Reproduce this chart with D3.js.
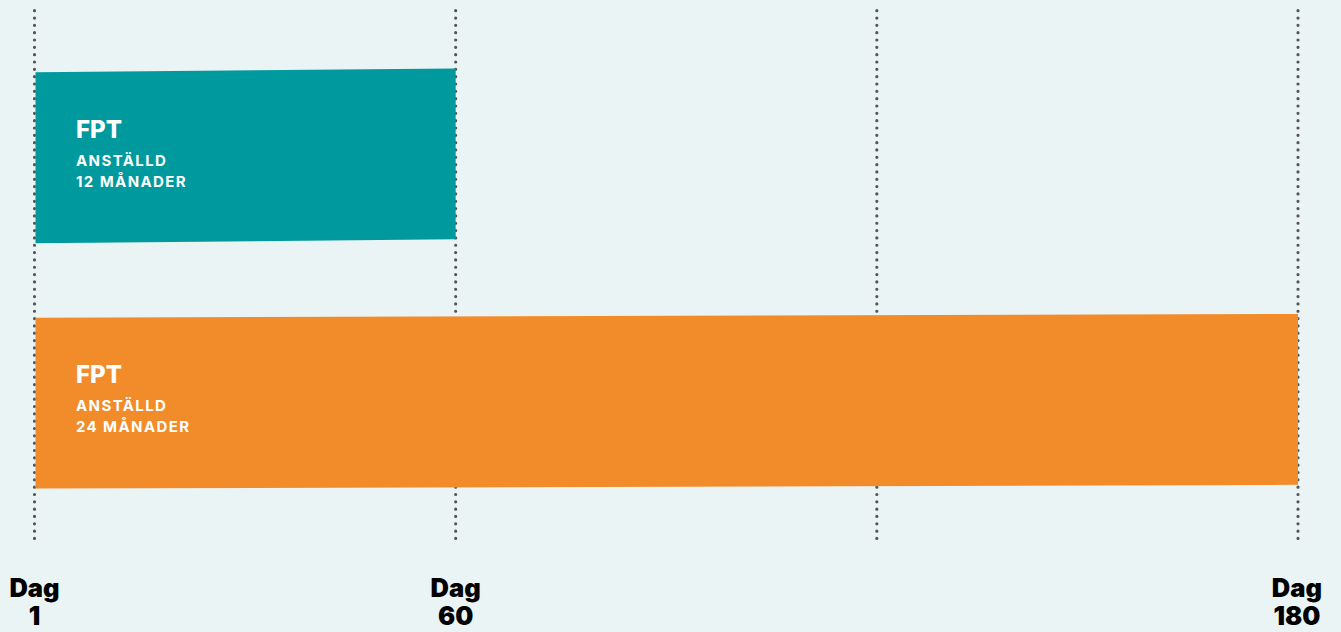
<!DOCTYPE html>
<html><head><meta charset="utf-8">
<script src="https://cdn.jsdelivr.net/npm/d3@7"></script>
<style>
html,body{margin:0;padding:0;background:#eaf4f5;}
svg{display:block;}
</style></head>
<body>
<svg id="chart" width="1341" height="632"></svg>
<script>
// Data
const tickValues = [0, 60, 120, 180];
const tickLabelTop = ["Dag", "Dag", "", "Dag"];
const tickLabelBottom = ["1", "60", "", "180"];
const barNames = ["FPT", "FPT"];
const barLine1 = ["ANSTÄLLD", "ANSTÄLLD"];
const barLine2 = ["12 MÅNADER", "24 MÅNADER"];
const barStart = [0, 0];
const barEnd = [60, 180];
const barColors = ["#00999e", "#f28c2a"];

const svg = d3.select("#chart");
const W = 1341, H = 632;
svg.append("rect").attr("width", W).attr("height", H).attr("fill", "#eaf4f5");

const x = d3.scaleLinear().domain([0, 180]).range([34.5, 1298]);
const y = d3.scaleBand().domain(d3.range(barNames.length)).range([68.5, 484.8]).paddingInner(0.304).paddingOuter(0);
const skew = 3.8;

// gridlines (behind)
svg.append("g").selectAll("line").data(tickValues).join("line")
  .attr("x1", d => x(d)).attr("x2", d => x(d))
  .attr("y1", 10.7).attr("y2", 544)
  .attr("stroke", "#555").attr("stroke-width", 3.2)
  .attr("stroke-linecap", "round").attr("stroke-dasharray", "0 7.33");

// bars (slightly skewed)
const bars = svg.append("g").selectAll("g").data(barNames.map((n, i) => i)).join("g");
bars.append("path")
  .attr("d", i => {
    const x0 = x(barStart[i]) + 1, x1 = x(barEnd[i]);
    const y0 = y(i), h = y.bandwidth();
    return `M${x0},${y0 + skew}L${x1},${y0}L${x1},${y0 + h}L${x0},${y0 + h + skew}Z`;
  })
  .attr("fill", i => barColors[i]);

const tf = "Inter, 'Liberation Sans', sans-serif";
bars.append("text")
  .attr("x", 76).attr("y", i => y(i) + skew + 65.5)
  .attr("font-family", tf).attr("font-weight", 800)
  .attr("font-size", 24).attr("fill", "#fff").text(i => barNames[i]);
bars.append("text")
  .attr("x", 76).attr("y", i => y(i) + skew + 93.6)
  .attr("font-family", tf).attr("font-weight", 700).attr("letter-spacing", 1.4)
  .attr("font-size", 15).attr("fill", "#fff").text(i => barLine1[i]);
bars.append("text")
  .attr("x", 76).attr("y", i => y(i) + skew + 114.2)
  .attr("font-family", tf).attr("font-weight", 700).attr("letter-spacing", 1.4)
  .attr("font-size", 15).attr("fill", "#fff").text(i => barLine2[i]);

// axis labels
const axisG = svg.append("g");
tickValues.forEach((t, i) => {
  if (!tickLabelTop[i]) return;
  const g = axisG.append("g");
  const tx = g.append("text").attr("text-anchor", "middle")
    .attr("font-family", "Inter, Lato, sans-serif").attr("font-weight", 900)
    .attr("font-size", 25.5).attr("fill", "#000");
  tx.append("tspan").attr("x", 0).attr("y", 597).text(tickLabelTop[i]);
  tx.append("tspan").attr("x", 0).attr("y", 625).text(tickLabelBottom[i]);
  let cx = x(t);
  const bb = tx.node().getBBox();
  if (cx + bb.x < 6) cx = 6 - bb.x;
  if (cx + bb.x + bb.width > W - 19) cx = W - 19 - bb.x - bb.width;
  g.attr("transform", `translate(${cx},0)`);
});
</script>
</body></html>
